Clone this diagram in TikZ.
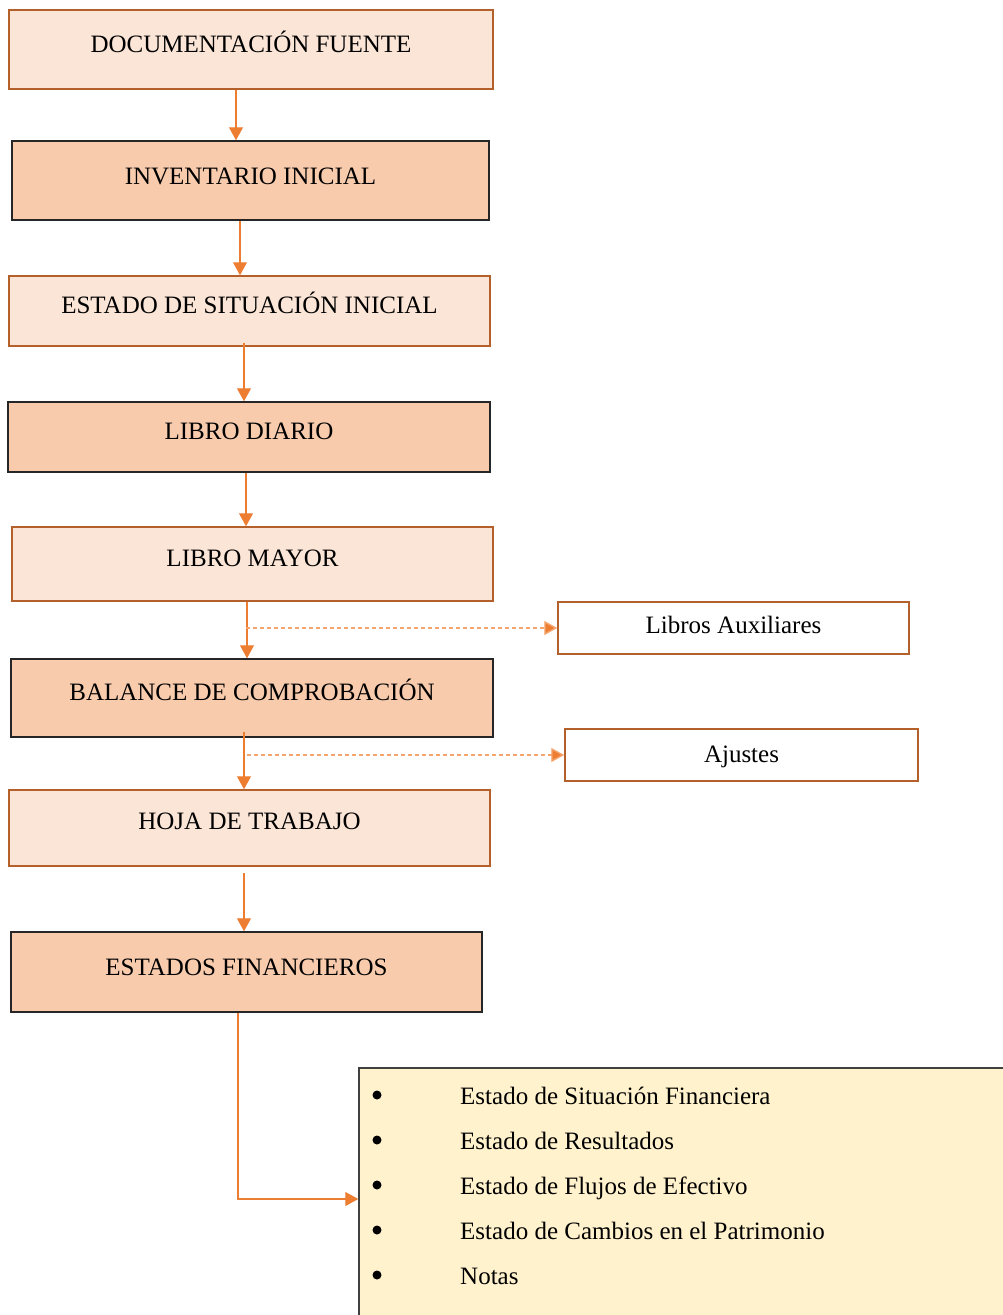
\documentclass[tikz,border=0pt]{standalone}
\usepackage{fontspec}
\setmainfont{Liberation Serif}
\usetikzlibrary{arrows.meta}
\definecolor{cajaClara}{HTML}{FBE5D6}
\definecolor{cajaOscura}{HTML}{F8CBAD}
\definecolor{bordeCafe}{HTML}{B4602A}
\definecolor{flechaNaranja}{HTML}{ED7D31}
\definecolor{puntoNaranja}{HTML}{F4A46C}
\definecolor{listaAmarilla}{HTML}{FFF2CC}

\begin{document}
\begin{tikzpicture}[x=1pt,y=-1pt,
  every node/.style={font=\fontsize{25}{30}\selectfont,inner sep=0pt},
  clara/.style={rectangle,draw=bordeCafe,fill=cajaClara,line width=1.5pt},
  oscura/.style={rectangle,draw=black!85,fill=cajaOscura,line width=1.5pt},
  blanca/.style={rectangle,draw=bordeCafe,fill=white,line width=1.5pt},
  vineta/.style={circle,fill=black,minimum size=9pt},
  flecha/.style={-{Triangle[width=14pt,length=13pt]},draw=flechaNaranja,line width=1.2pt},
  punteada/.style={-{Triangle[width=14pt,length=13pt,fill=flechaNaranja]},draw=puntoNaranja,line width=1.4pt,dash pattern=on 4pt off 3pt}]
\clip (0,0) rectangle (1003,1315);

% Main chain
\node[clara,minimum width=484pt,minimum height=79pt,text height=42pt,text depth=37pt] (doc) at (251,49.5) {DOCUMENTACIÓN FUENTE};
\node[oscura,minimum width=477pt,minimum height=79pt,text height=43pt,text depth=36pt] (inv) at (250.5,180.5) {INVENTARIO INICIAL};
\node[clara,minimum width=481pt,minimum height=70pt,text height=37pt,text depth=33pt] (esi) at (249.5,311) {ESTADO DE SITUACIÓN INICIAL};
\node[oscura,minimum width=482pt,minimum height=70pt,text height=37pt,text depth=33pt] (dia) at (249,437) {LIBRO DIARIO};
\node[clara,minimum width=481pt,minimum height=74pt,text height=39pt,text depth=35pt] (may) at (252.5,564) {LIBRO MAYOR};
\node[oscura,minimum width=482pt,minimum height=78pt,text height=41pt,text depth=37pt] (bal) at (252,698) {BALANCE DE COMPROBACIÓN};
\node[clara,minimum width=481pt,minimum height=76pt,text height=39pt,text depth=37pt] (hoj) at (249.5,828) {HOJA DE TRABAJO};
\node[oscura,minimum width=471pt,minimum height=80pt,text height=43pt,text depth=37pt] (est) at (246.5,972) {ESTADOS FINANCIEROS};

% Side boxes
\node[blanca,minimum width=351pt,minimum height=52pt,text height=31pt,text depth=21pt] (aux) at (733.5,628) {Libros Auxiliares};
\node[blanca,minimum width=353pt,minimum height=52pt,text height=33pt,text depth=19pt] (aju) at (741.5,755) {Ajustes};

% Statements list
\node[rectangle,draw=black!75,fill=listaAmarilla,line width=1.5pt,minimum width=654pt,minimum height=262pt] (lista) at (686,1199) {};
\node[vineta] (b1) at (377,1095) {};
\node[vineta] (b2) at (377,1140) {};
\node[vineta] (b3) at (377,1185) {};
\node[vineta] (b4) at (377,1230) {};
\node[vineta] (b5) at (377,1275) {};
\node[anchor=base west] (e1) at (460,1104) {Estado de Situación Financiera};
\node[anchor=base west] (e2) at (460,1149) {Estado de Resultados};
\node[anchor=base west] (e3) at (460,1194) {Estado de Flujos de Efectivo};
\node[anchor=base west] (e4) at (460,1239) {Estado de Cambios en el Patrimonio};
\node[anchor=base west] (e5) at (460,1284) {Notas};

% Arrows
\draw[flecha] ([xshift=-15pt]doc.south) -- ([xshift=-14.5pt]inv.north);
\draw[flecha] ([xshift=-10.5pt]inv.south) -- ([xshift=-9.5pt]esi.north);
\draw[flecha] ([xshift=-5.5pt,yshift=4pt]esi.south) -- ([xshift=-5pt]dia.north);
\draw[flecha] ([xshift=-3pt]dia.south) -- ([xshift=-6.5pt]may.north);
\draw[flecha] ([xshift=-5.5pt]may.south) -- ([xshift=-5pt]bal.north);
\draw[flecha] ([xshift=-8pt,yshift=6pt]bal.south) -- ([xshift=-5.5pt]hoj.north);
\draw[flecha] ([xshift=-5.5pt,yshift=-6pt]hoj.south) -- ([xshift=-2.5pt]est.north);
\draw[flecha] ([xshift=-8.5pt]est.south) |- (lista.west);
\draw[punteada] ([xshift=-7pt]may.south |- aux.west) -- (aux.west);
\draw[punteada] ([xshift=-5pt]bal.south |- aju.west) -- (aju.west);
\end{tikzpicture}
\end{document}
